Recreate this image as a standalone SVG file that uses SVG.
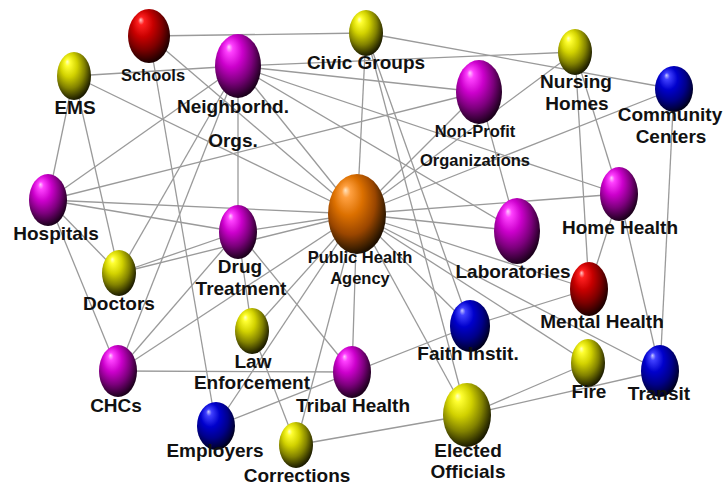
<svg xmlns="http://www.w3.org/2000/svg" width="724" height="485" viewBox="0 0 724 485">
<defs>
<radialGradient id="gY" cx="0.42" cy="0.38" r="0.62" fx="0.3" fy="0.2">
<stop offset="0" stop-color="#ffffc8"/><stop offset="0.12" stop-color="#ffff30"/><stop offset="0.4" stop-color="#d2d200"/><stop offset="0.7" stop-color="#828200"/><stop offset="0.92" stop-color="#363600"/><stop offset="1" stop-color="#1c1c00"/>
</radialGradient>
<radialGradient id="gM" cx="0.42" cy="0.38" r="0.62" fx="0.3" fy="0.2">
<stop offset="0" stop-color="#ffc8ff"/><stop offset="0.12" stop-color="#ff40ff"/><stop offset="0.4" stop-color="#cc00cc"/><stop offset="0.7" stop-color="#7c007c"/><stop offset="0.92" stop-color="#360036"/><stop offset="1" stop-color="#1c001c"/>
</radialGradient>
<radialGradient id="gR" cx="0.42" cy="0.38" r="0.62" fx="0.3" fy="0.2">
<stop offset="0" stop-color="#ffc8c8"/><stop offset="0.12" stop-color="#ff2020"/><stop offset="0.4" stop-color="#c80000"/><stop offset="0.7" stop-color="#7c0000"/><stop offset="0.92" stop-color="#360000"/><stop offset="1" stop-color="#1c0000"/>
</radialGradient>
<radialGradient id="gB" cx="0.42" cy="0.38" r="0.62" fx="0.3" fy="0.2">
<stop offset="0" stop-color="#c8c8ff"/><stop offset="0.12" stop-color="#4040ff"/><stop offset="0.4" stop-color="#0000cc"/><stop offset="0.7" stop-color="#00008a"/><stop offset="0.92" stop-color="#000040"/><stop offset="1" stop-color="#00001c"/>
</radialGradient>
<radialGradient id="gO" cx="0.42" cy="0.38" r="0.62" fx="0.3" fy="0.2">
<stop offset="0" stop-color="#ffe4c0"/><stop offset="0.12" stop-color="#ffa040"/><stop offset="0.4" stop-color="#dc7000"/><stop offset="0.7" stop-color="#9a4600"/><stop offset="0.92" stop-color="#402000"/><stop offset="1" stop-color="#201000"/>
</radialGradient>
</defs>
<style>
.e line{stroke:#9a9a9a;stroke-width:1.3;}
text{font-family:"Liberation Sans",Arial,sans-serif;font-weight:bold;fill:#111;text-anchor:middle;}
.L{font-size:19px;}
.S{font-size:16.5px;}
.y{fill:url(#gY);}
.m{fill:url(#gM);}
.r{fill:url(#gR);}
.b{fill:url(#gB);}
.o{fill:url(#gO);}
</style>
<rect width="724" height="485" fill="#ffffff"/>
<g id="connectors" class="e">
<line x1="149" y1="36" x2="366" y2="33"/>
<line x1="149" y1="36" x2="216" y2="426"/>
<line x1="149" y1="36" x2="357" y2="214"/>
<line x1="74" y1="76" x2="238" y2="66"/>
<line x1="74" y1="76" x2="48" y2="200"/>
<line x1="74" y1="76" x2="119" y2="273"/>
<line x1="74" y1="76" x2="357" y2="214"/>
<line x1="238" y1="66" x2="575" y2="52"/>
<line x1="238" y1="66" x2="479" y2="92"/>
<line x1="238" y1="66" x2="619" y2="194"/>
<line x1="238" y1="66" x2="517" y2="231"/>
<line x1="238" y1="66" x2="357" y2="214"/>
<line x1="238" y1="66" x2="238" y2="232"/>
<line x1="238" y1="66" x2="48" y2="200"/>
<line x1="238" y1="66" x2="119" y2="273"/>
<line x1="238" y1="66" x2="118" y2="371"/>
<line x1="366" y1="33" x2="357" y2="214"/>
<line x1="366" y1="33" x2="674" y2="89"/>
<line x1="366" y1="33" x2="467" y2="415"/>
<line x1="366" y1="33" x2="470" y2="326"/>
<line x1="575" y1="52" x2="357" y2="214"/>
<line x1="575" y1="52" x2="589" y2="289"/>
<line x1="575" y1="52" x2="619" y2="194"/>
<line x1="674" y1="89" x2="357" y2="214"/>
<line x1="674" y1="89" x2="660" y2="371"/>
<line x1="479" y1="92" x2="357" y2="214"/>
<line x1="479" y1="92" x2="517" y2="231"/>
<line x1="479" y1="92" x2="48" y2="200"/>
<line x1="357" y1="214" x2="619" y2="194"/>
<line x1="357" y1="214" x2="517" y2="231"/>
<line x1="357" y1="214" x2="589" y2="289"/>
<line x1="357" y1="214" x2="588" y2="363"/>
<line x1="357" y1="214" x2="660" y2="371"/>
<line x1="357" y1="214" x2="470" y2="326"/>
<line x1="357" y1="214" x2="467" y2="415"/>
<line x1="357" y1="214" x2="352" y2="372"/>
<line x1="357" y1="214" x2="252" y2="331"/>
<line x1="357" y1="214" x2="216" y2="426"/>
<line x1="357" y1="214" x2="296" y2="445"/>
<line x1="357" y1="214" x2="118" y2="371"/>
<line x1="357" y1="214" x2="238" y2="232"/>
<line x1="357" y1="214" x2="119" y2="273"/>
<line x1="357" y1="214" x2="48" y2="200"/>
<line x1="619" y1="194" x2="589" y2="289"/>
<line x1="619" y1="194" x2="660" y2="371"/>
<line x1="470" y1="326" x2="589" y2="289"/>
<line x1="470" y1="326" x2="216" y2="426"/>
<line x1="588" y1="363" x2="467" y2="415"/>
<line x1="660" y1="371" x2="467" y2="415"/>
<line x1="467" y1="415" x2="296" y2="445"/>
<line x1="252" y1="331" x2="296" y2="445"/>
<line x1="238" y1="232" x2="252" y2="331"/>
<line x1="238" y1="232" x2="352" y2="372"/>
<line x1="238" y1="232" x2="48" y2="200"/>
<line x1="238" y1="232" x2="119" y2="273"/>
<line x1="238" y1="232" x2="118" y2="371"/>
<line x1="118" y1="371" x2="352" y2="372"/>
<line x1="118" y1="371" x2="48" y2="200"/>
<line x1="48" y1="200" x2="119" y2="273"/>
</g>
<g id="schools"><ellipse class="r" cx="149" cy="36" rx="21" ry="27"/><text class="S" x="153" y="81">Schools</text></g>
<g id="ems"><ellipse class="y" cx="74" cy="76" rx="17" ry="24"/><text class="L" x="75" y="114">EMS</text></g>
<g id="neighborhood-orgs"><ellipse class="m" cx="238" cy="66" rx="23" ry="32"/><text class="L" x="233" y="113">Neighborhd.</text><text class="L" x="233" y="147">Orgs.</text></g>
<g id="civic-groups"><ellipse class="y" cx="366" cy="33" rx="17" ry="23"/><text class="L" x="366" y="69">Civic Groups</text></g>
<g id="nursing-homes"><ellipse class="y" cx="575" cy="52" rx="17" ry="23"/><text class="L" x="576" y="88">Nursing</text><text class="L" x="577" y="110">Homes</text></g>
<g id="community-centers"><ellipse class="b" cx="674" cy="89" rx="19" ry="23"/><text class="L" x="670" y="121">Community</text><text class="L" x="671" y="143">Centers</text></g>
<g id="non-profit"><ellipse class="m" cx="479" cy="92" rx="23" ry="32"/><text class="S" x="475" y="137">Non-Profit</text><text class="S" x="475" y="166">Organizations</text></g>
<g id="public-health-agency"><ellipse class="o" cx="357" cy="214" rx="29" ry="40"/><text class="S" x="360" y="263">Public Health</text><text class="S" x="360" y="284">Agency</text></g>
<g id="hospitals"><ellipse class="m" cx="48" cy="200" rx="19" ry="26"/><text class="L" x="56" y="240">Hospitals</text></g>
<g id="doctors"><ellipse class="y" cx="119" cy="273" rx="17" ry="23"/><text class="L" x="119" y="310">Doctors</text></g>
<g id="drug-treatment"><ellipse class="m" cx="238" cy="232" rx="19" ry="27"/><text class="L" x="240" y="273">Drug</text><text class="L" x="241" y="295">Treatment</text></g>
<g id="laboratories"><ellipse class="m" cx="517" cy="231" rx="23" ry="33"/><text class="L" x="513" y="278">Laboratories</text></g>
<g id="home-health"><ellipse class="m" cx="619" cy="194" rx="19" ry="27"/><text class="L" x="620" y="234">Home Health</text></g>
<g id="mental-health"><ellipse class="r" cx="589" cy="289" rx="19" ry="27"/><text class="L" x="602" y="328">Mental Health</text></g>
<g id="faith-instit"><ellipse class="b" cx="470" cy="326" rx="20" ry="26"/><text class="L" x="468" y="360">Faith Instit.</text></g>
<g id="fire"><ellipse class="y" cx="588" cy="363" rx="17" ry="24"/><text class="L" x="589" y="398">Fire</text></g>
<g id="transit"><ellipse class="b" cx="660" cy="371" rx="19" ry="26"/><text class="L" x="659" y="400">Transit</text></g>
<g id="elected-officials"><ellipse class="y" cx="467" cy="415" rx="24" ry="32"/><text class="L" x="468" y="457">Elected</text><text class="L" x="468" y="478">Officials</text></g>
<g id="chcs"><ellipse class="m" cx="118" cy="371" rx="19" ry="26"/><text class="L" x="116" y="412">CHCs</text></g>
<g id="law-enforcement"><ellipse class="y" cx="252" cy="331" rx="17" ry="23"/><text class="L" x="253" y="368">Law</text><text class="L" x="252" y="389">Enforcement</text></g>
<g id="tribal-health"><ellipse class="m" cx="352" cy="372" rx="19" ry="26"/><text class="L" x="353" y="412">Tribal Health</text></g>
<g id="employers"><ellipse class="b" cx="216" cy="426" rx="19" ry="24"/><text class="L" x="215" y="457">Employers</text></g>
<g id="corrections"><ellipse class="y" cx="296" cy="445" rx="17" ry="23"/><text class="L" x="297" y="482">Corrections</text></g>
</svg>
